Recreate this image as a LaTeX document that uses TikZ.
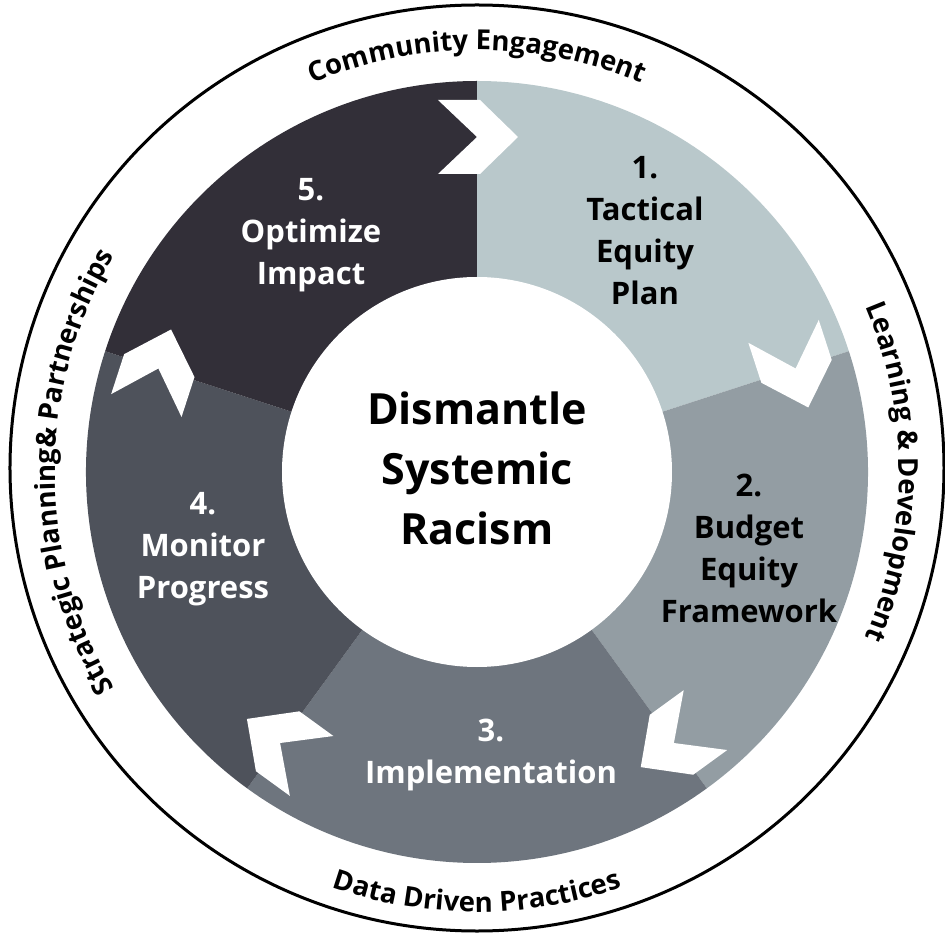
\documentclass[tikz,border=0pt]{standalone}
\usepackage{fontspec}
\setmainfont{Open Sans}
\usepackage[dvipsnames]{xcolor}
\usepackage{tikz}
\usetikzlibrary{decorations.text}

\definecolor{segA}{HTML}{B9C8CB}
\definecolor{segB}{HTML}{939DA3}
\definecolor{segC}{HTML}{6E757E}
\definecolor{segD}{HTML}{4E525B}
\definecolor{segE}{HTML}{322F38}
\newcommand{\ringfont}{\fontsize{27.5}{30}\selectfont\bfseries}

\tikzset{
  steplbl/.style={font=\fontsize{31}{42}\selectfont\bfseries, align=center, inner sep=0pt},
  ringtext/.style={decorate, decoration={text along path, text align=center, text={|\ringfont|#1}}}
}

\begin{document}
\begin{tikzpicture}[x=1pt, y=1pt]
\useasboundingbox (-477,-462) rectangle (468,472);

\fill[segA] (0,0) -- (18:391) arc[start angle=18, end angle=90, radius=391] -- cycle;
\fill[segB] (0,0) -- (-54:391) arc[start angle=-54, end angle=18, radius=391] -- cycle;
\fill[segC] (0,0) -- (-126:391) arc[start angle=-126, end angle=-54, radius=391] -- cycle;
\fill[segD] (0,0) -- (162:391) arc[start angle=162, end angle=234, radius=391] -- cycle;
\fill[segE] (0,0) -- (90:391) arc[start angle=90, end angle=162, radius=391] -- cycle;
\fill[white] (0,0) circle[radius=195];

\fill[white, shift={(90:335)}, rotate=0] (-39,37) -- (3,37) -- (41,0) -- (3,-37) -- (-39,-37) -- (0,0) -- cycle;
\fill[white, shift={(18:335)}, rotate=-72] (-39,37) -- (3,37) -- (41,0) -- (3,-37) -- (-39,-37) -- (0,0) -- cycle;
\fill[white, shift={(-54:335)}, rotate=-144] (-39,37) -- (3,37) -- (41,0) -- (3,-37) -- (-39,-37) -- (0,0) -- cycle;
\fill[white, shift={(-126:335)}, rotate=-216] (-39,37) -- (3,37) -- (41,0) -- (3,-37) -- (-39,-37) -- (0,0) -- cycle;
\fill[white, shift={(162:335)}, rotate=72] (-39,37) -- (3,37) -- (41,0) -- (3,-37) -- (-39,-37) -- (0,0) -- cycle;

\node[steplbl, text=black] (tactical) at (168,241) {1.\\Tactical\\Equity\\Plan};
\node[steplbl, text=black] (budget) at (272,-76) {2.\\Budget\\Equity\\Framework};
\node[steplbl, text=white] (implement) at (14,-283) {3.\\Implementation};
\node[steplbl, text=white] (monitor) at (-274,-77) {4.\\Monitor\\Progress};
\node[steplbl, text=white] (optimize) at (-166,237) {5.\\Optimize\\Impact};
\node[font=\fontsize{43}{60}\selectfont\bfseries, align=center, inner sep=0pt] (hub) at (0,4) {Dismantle\\Systemic\\Racism};

\draw[line width=3] (0,4) ellipse[x radius=467, y radius=463];
\path[ringtext={Community Engagement}] (135:422) arc[start angle=135, end angle=45, radius=422];
\path[ringtext={Learning {\&} Development}] (45:422) arc[start angle=45, end angle=-45, radius=422];
\path[ringtext={Data Driven Practices}] (225:440) arc[start angle=225, end angle=315, radius=440];
\path[ringtext={Strategic Planning{\&} Partnerships}] (225:422) arc[start angle=225, end angle=135, radius=422];
\end{tikzpicture}
\end{document}
